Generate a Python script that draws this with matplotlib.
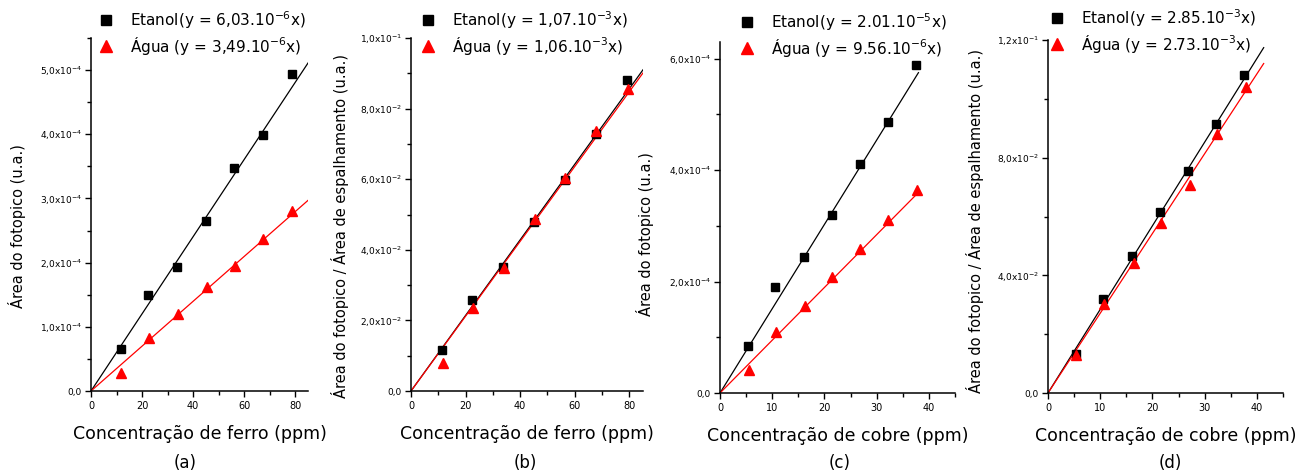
import matplotlib.pyplot as plt
from matplotlib.ticker import FixedLocator, FixedFormatter, MultipleLocator

W, H = 1310, 476

# ---- data ----
# (a) ferro, area do fotopico
a_x_et = [11.6, 22.5, 33.7, 45.0, 56.2, 67.5, 78.7]
a_y_et = [0.66e-4, 1.50e-4, 1.93e-4, 2.65e-4, 3.48e-4, 3.99e-4, 4.94e-4]
a_x_ag = [11.6, 22.9, 34.1, 45.3, 56.4, 67.5, 78.8]
a_y_ag = [0.28e-4, 0.82e-4, 1.20e-4, 1.62e-4, 1.95e-4, 2.37e-4, 2.80e-4]
a_fit_x = [0, 85]
a_fit_et = [0, 5.11e-4]
a_fit_ag = [0, 2.97e-4]

# (b) ferro, fotopico / espalhamento
b_x_et = [11.2, 22.5, 33.7, 45.1, 56.4, 67.8, 79.2]
b_y_et = [0.0115, 0.0259, 0.0352, 0.0480, 0.0598, 0.0728, 0.0880]
b_x_ag = [11.8, 22.8, 34.1, 45.3, 56.5, 67.8, 79.4]
b_y_ag = [0.0078, 0.0236, 0.0349, 0.0487, 0.0603, 0.0737, 0.0855]
b_fit_x = [0, 85]
b_fit_et = [0, 0.0910]
b_fit_ag = [0, 0.0901]

# (c) cobre, area do fotopico
c_x_et = [5.4, 10.6, 16.1, 21.5, 26.8, 32.2, 37.5]
c_y_et = [0.84e-4, 1.91e-4, 2.44e-4, 3.20e-4, 4.11e-4, 4.87e-4, 5.89e-4]
c_x_ag = [5.5, 10.8, 16.3, 21.5, 26.8, 32.2, 37.8]
c_y_ag = [0.41e-4, 1.10e-4, 1.57e-4, 2.09e-4, 2.58e-4, 3.11e-4, 3.64e-4]
c_fit_x = [0, 38]
c_fit_et = [0, 5.75e-4]
c_fit_ag = [0, 3.60e-4]

# (d) cobre, fotopico / espalhamento
d_x_et = [5.4, 10.6, 16.1, 21.5, 26.9, 32.2, 37.6]
d_y_et = [0.0134, 0.0318, 0.0465, 0.0614, 0.0755, 0.0914, 0.1080]
d_x_ag = [5.4, 10.8, 16.4, 21.6, 27.1, 32.4, 37.9]
d_y_ag = [0.0128, 0.0304, 0.0442, 0.0578, 0.0707, 0.0879, 0.1040]
d_fit_x = [0, 41.3]
d_fit_et = [0, 0.1174]
d_fit_ag = [0, 0.1120]

a_yticks = [0, 1e-4, 2e-4, 3e-4, 4e-4, 5e-4]
a_ylabels = ['0,0'] + [f'{v},0x10$^{{-4}}$' for v in (1, 2, 3, 4, 5)]
b_yticks = [0, 0.02, 0.04, 0.06, 0.08, 0.10]
b_ylabels = ['0,0'] + [f'{v},0x10$^{{-2}}$' for v in (2, 4, 6, 8)] + ['1,0x10$^{-1}$']
c_yticks = [0, 2e-4, 4e-4, 6e-4]
c_ylabels = ['0,0'] + [f'{v},0x10$^{{-4}}$' for v in (2, 4, 6)]
d_yticks = [0, 0.04, 0.08, 0.12]
d_ylabels = ['0,0', '4,0x10$^{-2}$', '8,0x10$^{-2}$', '1,2x10$^{-1}$']

panels = [
    dict(rect=(91, 38, 308, 391), xmax=85, ymax=5.5e-4, xmaj=20, ymin_step=0.5e-4,
         yticks=a_yticks, ylabels=a_ylabels,
         x_et=a_x_et, y_et=a_y_et, x_ag=a_x_ag, y_ag=a_y_ag,
         fx=a_fit_x, f_et=a_fit_et, f_ag=a_fit_ag,
         leg_et='Etanol(y = 6,03.10$^{-6}$x)', leg_ag='Água (y = 3,49.10$^{-6}$x)',
         leg=(98, 9), xlab='Concentração de ferro (ppm)',
         ylab='Área do fotopico (u.a.)', ylab_pos=(17, 226), tag='(a)', tag_x=185),
    dict(rect=(411, 38, 643, 391), xmax=85, ymax=0.10, xmaj=20, ymin_step=0.01,
         yticks=b_yticks, ylabels=b_ylabels,
         x_et=b_x_et, y_et=b_y_et, x_ag=b_x_ag, y_ag=b_y_ag,
         fx=b_fit_x, f_et=b_fit_et, f_ag=b_fit_ag,
         leg_et='Etanol(y = 1,07.10$^{-3}$x)', leg_ag='Água (y = 1,06.10$^{-3}$x)',
         leg=(420, 9), xlab='Concentração de ferro (ppm)',
         ylab='Área do fotopico / Área de espalhamento (u.a.)', ylab_pos=(340, 226),
         tag='(b)', tag_x=525),
    dict(rect=(720, 42, 955, 393), xmax=45, ymax=6.3e-4, xmaj=10, ymin_step=1e-4,
         yticks=c_yticks, ylabels=c_ylabels,
         x_et=c_x_et, y_et=c_y_et, x_ag=c_x_ag, y_ag=c_y_ag,
         fx=c_fit_x, f_et=c_fit_et, f_ag=c_fit_ag,
         leg_et='Etanol(y = 2.01.10$^{-5}$x)', leg_ag='Água (y = 9.56.10$^{-6}$x)',
         leg=(739, 11), xlab='Concentração de cobre (ppm)',
         ylab='Área do fotopico (u.a.)', ylab_pos=(645, 234), tag='(c)', tag_x=840),
    dict(rect=(1048, 40, 1283, 393), xmax=45, ymax=0.12, xmaj=10, ymin_step=0.02,
         yticks=d_yticks, ylabels=d_ylabels,
         x_et=d_x_et, y_et=d_y_et, x_ag=d_x_ag, y_ag=d_y_ag,
         fx=d_fit_x, f_et=d_fit_et, f_ag=d_fit_ag,
         leg_et='Etanol(y = 2.85.10$^{-3}$x)', leg_ag='Água (y = 2.73.10$^{-3}$x)',
         leg=(1049, 7), xlab='Concentração de cobre (ppm)',
         ylab='Área do fotopico / Área de espalhamento (u.a.)', ylab_pos=(975, 221),
         tag='(d)', tag_x=1170),
]

plt.rcParams['font.family'] = 'DejaVu Sans'
fig = plt.figure(figsize=(W / 100, H / 100), dpi=100)

for p in panels:
    l, t, r, b = p['rect']
    ax = fig.add_axes([l / W, 1 - b / H, (r - l) / W, (b - t) / H])
    ax.plot(p['fx'], p['f_et'], color='black', lw=0.9)
    ax.plot(p['fx'], p['f_ag'], color='red', lw=0.9)
    h1, = ax.plot(p['x_et'], p['y_et'], 's', color='black', ms=6, label=p['leg_et'])
    h2, = ax.plot(p['x_ag'], p['y_ag'], '^', color='red', ms=7, label=p['leg_ag'])

    ax.set_xlim(0, p['xmax'])
    ax.set_ylim(0, p['ymax'])
    ax.xaxis.set_major_locator(MultipleLocator(p['xmaj']))
    ax.xaxis.set_minor_locator(MultipleLocator(p['xmaj'] / 2))
    ax.yaxis.set_major_locator(FixedLocator(p['yticks']))
    ax.yaxis.set_major_formatter(FixedFormatter(p['ylabels']))
    ax.yaxis.set_minor_locator(MultipleLocator(p['ymin_step']))
    ax.spines['top'].set_visible(False)
    ax.spines['right'].set_visible(False)
    for s in ('left', 'bottom'):
        ax.spines[s].set_linewidth(1.1)
    ax.tick_params(which='major', direction='out', length=4.5, width=1.0,
                   labelsize=7, pad=3)
    ax.tick_params(axis='y', which='major', labelsize=6.5, pad=2)
    ax.tick_params(which='minor', direction='out', length=3, width=1.0)

    ax.set_xlabel(p['xlab'], fontsize=12.5, labelpad=10)
    ax.set_ylabel(p['ylab'], fontsize=10.5, va='center')
    yx, yy = p['ylab_pos']
    ax.yaxis.set_label_coords((yx - l) / (r - l), (b - yy) / (b - t))

    lx, ly = p['leg']
    ax.legend(handles=[h1, h2], loc='upper left', frameon=False, fontsize=11,
              bbox_to_anchor=(lx / W, 1 - ly / H), bbox_transform=fig.transFigure,
              borderpad=0, borderaxespad=0, handlelength=1.0, handletextpad=1.1,
              labelspacing=0.25, numpoints=1, markerscale=1.15)

    fig.text(p['tag_x'] / W, 1 - 463 / H, p['tag'], fontsize=12, ha='center', va='center')

fig.savefig('out.png', dpi=100)
